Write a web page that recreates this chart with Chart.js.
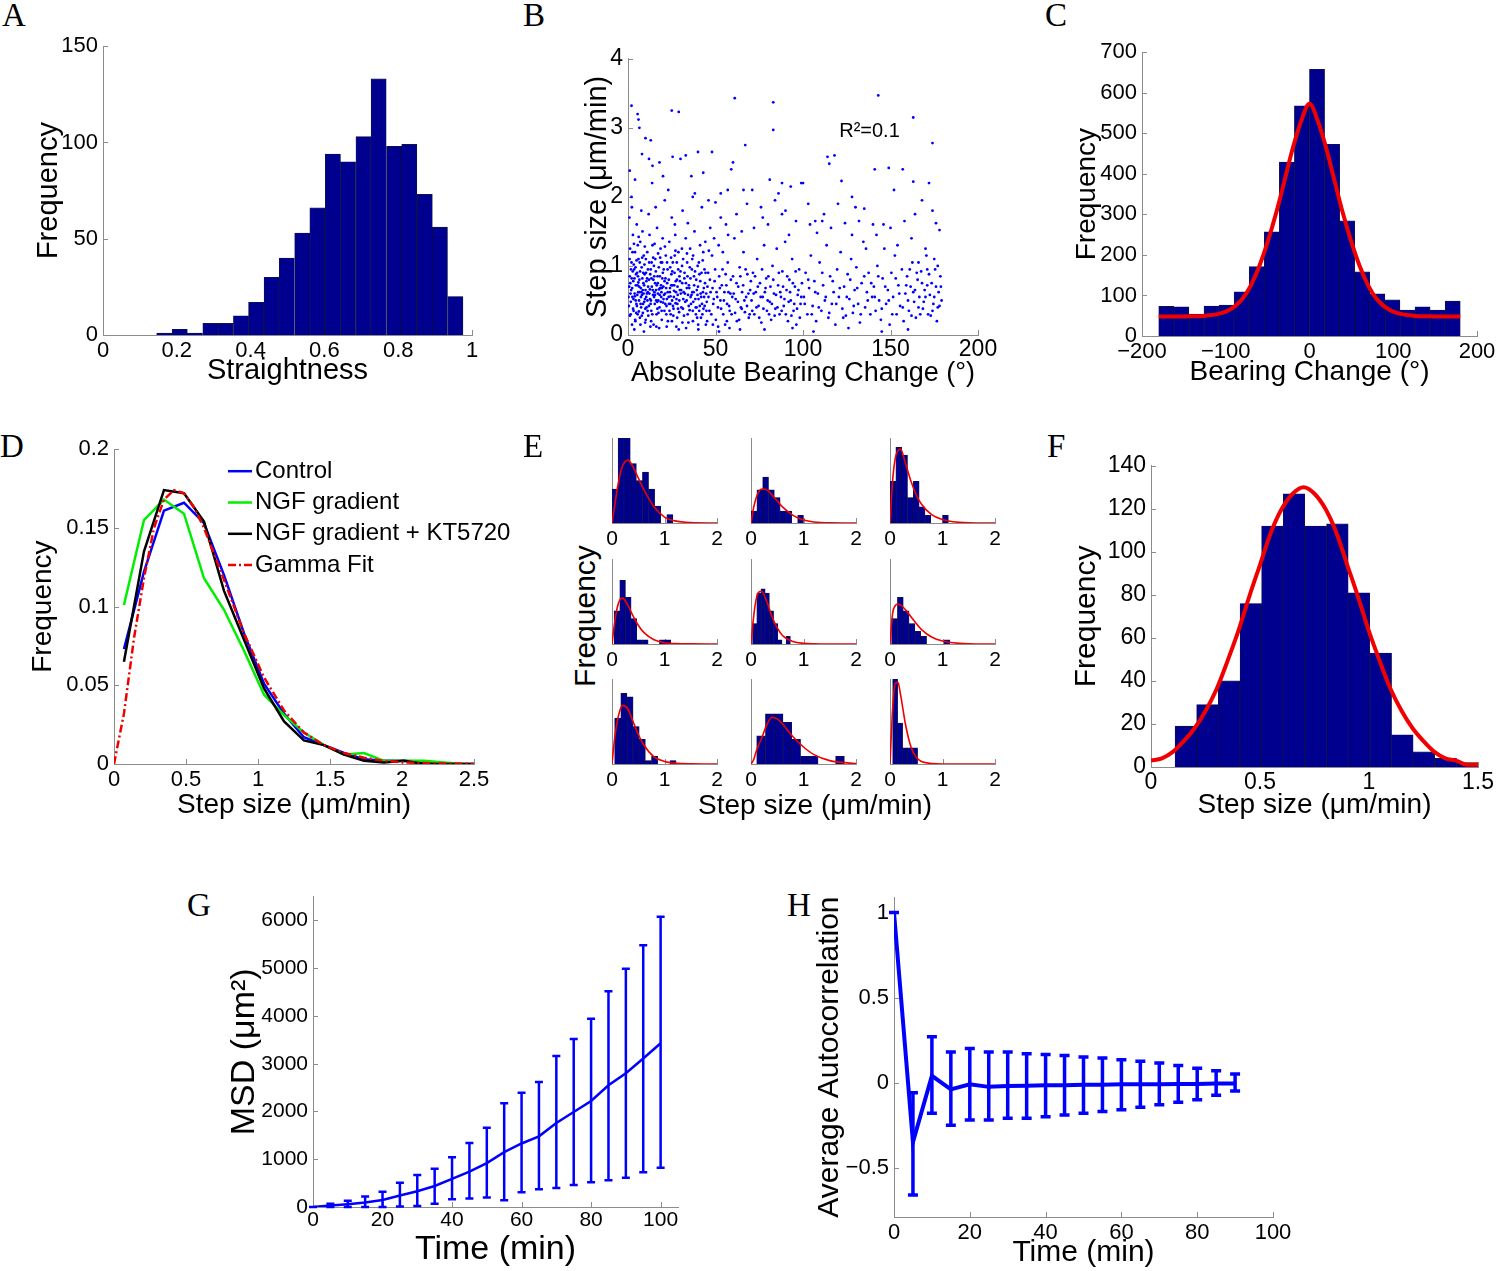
<!DOCTYPE html>
<html>
<head>
<meta charset="utf-8">
<title>Cell migration statistics</title>
<script src="https://cdn.jsdelivr.net/npm/chart.js@4.4.1/dist/chart.umd.min.js"></script>
<style>
  html, body { margin: 0; padding: 0; background: #fff; }
  #fig { position: relative; width: 1500px; height: 1271px; overflow: hidden; }
  #fig canvas { position: absolute; }
  .txt { position: absolute; white-space: nowrap; line-height: 1; color: #000;
         font-family: 'Liberation Sans', Arial, sans-serif; transform-origin: center; }
  .letter { position: absolute; font-family: 'Liberation Serif', 'Times New Roman', serif;
            font-size: 33px; line-height: 33px; color: #000; }
</style>
</head>
<body>
<div id="fig"></div>
<script>
// ---------- A: straightness histogram ----------
const A_BINS = [0.166, 0.208, 0.249, 0.291, 0.332, 0.374, 0.415, 0.457, 0.498, 0.540,
                0.581, 0.623, 0.664, 0.706, 0.747, 0.789, 0.830, 0.872, 0.913, 0.955];
const A_COUNTS = [1, 3, 1, 6, 6, 10, 17, 30, 40, 53, 66, 94, 90, 103, 133, 98, 99, 73, 56, 20];
const A_XTICKS = [0, 0.2, 0.4, 0.6, 0.8, 1];
const A_YTICKS = [0, 50, 100, 150];

// ---------- B: step size vs absolute bearing change ----------
const B_POINTS = [
  [0.5,0.42],[1,0.85],[1.2,1.25],[1.5,0.3],[1.8,0.65],[2,1.05],[2.3,0.15],[2.5,0.55],[2.8,1.45],[3,0.78],
  [3.2,0.35],[3.5,0.95],[3.8,0.6],[4,1.2],[4.2,0.2],[4.5,0.72],[4.8,0.45],[5,1.6],[5.2,0.9],[5.5,0.3],
  [5.8,0.62],[6,1.1],[6.3,0.5],[6.5,0.8],[6.8,0.25],[7,1.35],[7.3,0.68],[7.5,0.4],[7.8,0.98],[8,0.58],
  [8.3,1.5],[8.5,0.32],[8.8,0.75],[9,1.15],[9.3,0.48],[9.5,0.88],[9.8,0.18],[10,0.65],[0.8,1.7],[2.2,1.85],
  [3.6,0.08],[5.6,1.3],[7.6,1.8],[9.1,0.05],[1.4,0.6],[4.4,0.5],[6.6,0.62],[8.6,0.45],[2.7,0.92],[5.4,0.72],
  [10.3,0.9],[10.6,0.4],[11,1.2],[11.3,0.62],[11.6,0.28],[12,0.8],[12.3,1.45],[12.6,0.52],[13,0.95],[13.3,0.35],
  [13.6,0.7],[14,1.3],[14.3,0.58],[14.6,0.15],[15,0.85],[15.3,0.45],[15.6,1.1],[16,0.65],[16.3,0.3],[16.6,1.55],
  [17,0.75],[17.3,0.5],[17.6,0.98],[18,0.4],[18.3,0.68],[18.6,1.25],[19,0.55],[19.3,0.22],[19.6,0.82],[20,0.47],
  [11.8,1.75],[13.8,2.2],[15.8,1.85],[17.8,0.1],[12.8,0.12],[14.8,1.0],[16.8,0.38],[18.8,1.05],[10.8,0.6],[19.8,1.4],
  [13.1,0.5],[15.1,0.62],[17.1,0.6],[11.1,0.5],[19.1,0.62],
  [20.4,0.95],[20.8,0.35],[21.2,0.6],[21.6,1.15],[22,0.42],[22.4,0.75],[22.8,0.2],[23.2,0.55],[23.6,1.35],[24,0.68],
  [24.4,0.3],[24.8,0.88],[25.2,0.5],[25.6,1.05],[26,0.38],[26.4,0.72],[26.8,1.6],[27.2,0.46],[27.6,0.12],[28,0.8],
  [28.4,0.58],[28.8,1.2],[29.2,0.33],[29.6,0.65],[30,0.92],[21,1.95],[23,2.1],[25,1.7],[27,1.45],[29,0.08],
  [22.2,0.52],[24.2,0.45],[26.2,0.55],[28.2,0.45],[20.2,0.7],
  [30.5,0.4],[31,0.75],[31.5,1.1],[32,0.28],[32.5,0.6],[33,1.4],[33.5,0.5],[34,0.85],[34.5,0.18],[35,0.68],
  [35.5,1.25],[36,0.45],[36.5,0.95],[37,0.35],[37.5,0.62],[38,1.5],[38.5,0.52],[39,0.8],[39.5,0.25],[40,0.7],
  [40.5,1.05],[41,0.42],[41.5,0.6],[42,0.9],[42.5,0.3],[43,1.2],[43.5,0.55],[44,0.75],[44.5,0.15],[45,0.48],
  [31.2,1.8],[34.2,1.62],[36.2,2.3],[38.2,2.05],[42.2,1.85],[44.2,1.35],[33.2,0.1],[40.2,0.08],[35.8,0.55],[39.2,0.4],
  [45.8,0.9],[46.5,0.35],[47.2,0.62],[48,1.15],[48.7,0.45],[49.5,0.78],[50.2,0.22],[51,0.55],[51.8,1.3],[52.5,0.68],
  [53.2,0.38],[54,0.95],[54.8,0.5],[55.5,0.15],[56.2,0.72],[57,1.05],[57.8,0.42],[58.5,0.6],[59.2,0.3],[60,0.85],
  [60.8,1.4],[61.5,0.52],[62.2,0.2],[63,0.7],[63.8,0.98],[64.5,0.4],[65.2,0.62],[66,1.2],[66.8,0.33],[67.5,0.55],
  [68.2,0.88],[69,0.25],[69.8,0.65],[47,1.55],[50,1.92],[53,1.7],[56,1.6],[59,2.4],[62,1.75],[65,1.5],
  [68,1.9],[52,0.05],[58,0.1],[64,0.08],
  [70.6,0.5],[71.4,0.9],[72.2,0.3],[73,0.62],[73.8,1.1],[74.6,0.42],[75.4,0.75],[76.2,0.18],[77,0.55],[77.8,1.3],
  [78.6,0.68],[79.4,0.35],[80.2,0.85],[81,0.48],[81.8,0.22],[82.6,1.0],[83.4,0.6],[84.2,0.38],[85,1.25],[85.8,0.72],
  [86.6,0.3],[87.4,0.55],[88.2,0.92],[89,0.42],[89.8,1.35],[90.6,0.65],[91.4,0.2],[92.2,0.8],[93,0.5],[93.8,1.1],
  [94.6,0.35],[95.4,0.7],[96.2,0.15],[97,0.58],[97.8,0.95],[98.6,0.45],[99.4,0.75],[72,1.55],[76,1.85],[80,1.6],
  [84,1.95],[88,1.75],[92,1.45],[96,1.65],[78,0.08],[94,0.1],
  [100.5,0.55],[101.5,0.9],[102.5,0.3],[103.5,0.68],[104.5,1.15],[105.5,0.42],[106.5,0.78],[107.5,0.2],[108.5,0.6],[109.5,1.05],
  [110.5,0.35],[111.5,0.72],[112.5,0.5],[113.5,1.3],[114.5,0.25],[115.5,0.85],[116.5,0.45],[117.5,0.62],[118.5,0.15],[119.5,0.95],
  [120.5,0.55],[121.5,1.2],[122.5,0.38],[123.5,0.7],[124.5,0.28],[125.5,0.88],[126.5,0.52],[127.5,1.1],[128.5,0.32],[129.5,0.65],
  [130.5,0.98],[131.5,0.45],[132.5,0.18],[133.5,0.75],[134.5,1.35],[135.5,0.4],[136.5,0.62],[137.5,0.9],[138.5,0.3],[139.5,0.55],
  [104,1.6],[108,1.48],[112,1.75],[116,1.55],[124,1.62],[128,1.45],[132,1.65],[136,1.25],[106,0.05],[126,0.1],
  [100,2.2],[107,1.65],
  [140.5,0.7],[141.5,0.35],[142.5,1.0],[143.5,0.5],[144.5,0.22],[145.5,0.82],[146.5,1.25],[147.5,0.45],[148.5,0.65],[149.5,0.15],
  [150.5,0.9],[151.5,0.55],[152.5,1.15],[153.5,0.3],[154.5,0.72],[155.5,0.42],[156.5,0.95],[157.5,0.2],[158.5,0.6],[159.5,0.85],
  [160.5,0.35],[161.5,0.7],[162.5,1.05],[163.5,0.48],[164.5,0.25],[165.5,0.8],[166.5,0.55],[167.5,0.92],[168.5,0.38],[169.5,0.65],
  [170.5,1.15],[171.5,0.3],[172.5,0.58],[173.5,0.75],[174.5,0.45],[175.5,0.95],[176.5,0.2],[177.5,0.62],[178.5,0.85],[179.2,0.5],
  [161,0.95],[163,0.62],[166,0.4],[168,0.75],[170,0.55],[172,0.88],[174,0.35],[176,0.7],[178,0.42],[142,1.45],
  [146,1.6],[150,1.55],[154,1.3],[158,1.65],[162,1.4],[170,1.25],[175,1.1],[160,0.08],[145,0.05],
  [2,3.32],[5.5,3.2],[6,3.12],[6.5,3.0],[10,2.85],[13,2.82],[25,3.25],[29,3.23],[61,3.43],[83,3.37],
  [83,2.97],[143,3.47],[163,3.15],[174,2.78],[67,2.75],[8,2.62],[12,2.55],[18,2.5],[25.5,2.58],[30,2.55],
  [40,2.65],[48,2.65],[33,2.6],[114,2.58],[118,2.6],[141,2.4],[149,2.42],[157,2.4],[163,2.22],[172,2.2],
  [81,2.25],[88,2.2],[99,2.2],[60,2.5],[57,2.1],[66,2.1],[122,2.23],[115,2.48],[2,2.0],[1,2.38],
  [46,1.95],[103,1.9],[130,1.85],[135,1.83],[174,1.8],[178,1.52],[176,1.62],[164,1.75],[140,1.6],[120,1.9],
  [111,1.65],[90,1.8],[77,1.7],[4,2.25],[14,2.45],[20,2.3],[37,2.0],[43,2.35],[53,2.05],[71,2.1],
  [86,2.05],[93,2.15],[128,2.0],[152,2.1],[168,1.95],
  [0.7,0.7],[1.6,0.48],[2.1,0.82],[2.9,0.38],[3.3,1.02],[3.9,0.56],[4.6,0.88],[5.1,0.42],[5.9,0.76],[6.2,0.34],
  [6.9,0.92],[7.4,0.55],[7.9,0.28],[8.2,0.82],[8.9,0.6],[9.4,1.02],[9.9,0.38],[10.5,0.78],[11.4,0.95],[11.9,0.42],
  [12.5,0.66],[13.4,0.82],[13.9,0.3],[14.4,1.12],[14.9,0.55],[15.5,0.75],[16.1,0.5],[16.9,0.85],[17.4,0.32],[18.1,0.58],
  [18.9,0.72],[19.5,1.05],[20.6,0.58],[21.4,0.82],[21.9,0.3],[22.6,0.95],[23.4,0.45],[23.9,0.62],[24.6,1.12],[25.4,0.72],
  [25.9,0.28],[26.6,0.9],[27.4,0.62],[27.9,1.05],[28.6,0.38],[29.4,0.85],[30.2,0.6],[31.6,0.52],[32.3,0.9],[33.6,0.68],
  [34.7,0.42],[35.3,0.98],[36.8,0.62],[37.7,0.85],[38.8,0.3],[39.7,0.58],[40.8,0.88],[41.7,0.25],[42.8,0.62],[43.7,0.95],
  [44.8,0.35],[3.4,1.32],[6.1,1.42],[9.6,1.28],[12.1,1.05],[15.2,1.32],[18.4,1.12],[21.1,1.28],[24.1,0.98],[27.1,1.22],
  [30.8,1.25],[33.8,1.05],[37.2,1.15],[41.2,1.3],[1.1,0.28],[4.1,0.22],[7.1,0.15],[10.1,0.22],[13.2,0.2],[16.2,0.12],
  [19.2,0.35],[22.1,0.12],[25.1,0.2],[28.1,0.25],[31.1,0.18],[34.1,0.3],[37.1,0.2],[40.1,0.15],[43.1,0.38],
  [0.3,0.55],[0.9,1.1],[1.3,0.75],[1.7,0.95],[2.4,0.68],[2.6,1.2],[3.1,0.52],[3.7,0.82],[4.3,0.98],[4.7,0.32],
  [4.9,1.08],[5.3,0.58],[5.7,0.85],[6.4,0.7],[6.7,1.05],[7.2,0.45],[7.7,0.62],[8.1,1.12],[8.4,0.65],[8.7,0.9],
  [9.2,0.72],[9.7,0.52],[10.2,1.1],[10.4,0.55],[10.9,0.82],[11.2,0.35],[11.5,0.7],[12.2,0.6],[12.7,0.88],[12.9,0.45],
  [13.5,1.05],[14.1,0.65],[14.5,0.8],[15.4,0.58],[15.9,0.92],[16.4,0.72],[16.7,0.48],[17.2,1.18],[17.7,0.66],[18.2,0.85],
  [18.7,0.48],[19.4,0.68],[19.9,0.9],[20.3,0.52],[20.9,0.78],[21.3,0.45],[21.8,0.68],[22.3,1.05],[22.7,0.62],[23.3,0.8],
  [23.7,0.35],[24.3,0.56],[24.7,0.72],[25.3,0.92],[25.7,0.42],[26.3,0.64],[26.7,1.15],[27.3,0.78],[27.7,0.52],[28.3,0.7],
  [28.7,0.95],[29.3,0.5],[29.7,0.78],
  [30.4,0.65],[30.9,1.0],[31.4,0.38],[31.8,0.62],[32.2,0.82],[32.7,0.48],[33.1,0.75],[33.7,1.18],[34.3,0.58],[34.8,0.72],
  [35.2,0.36],[35.7,0.82],[36.3,0.58],[36.7,1.1],[37.3,0.48],[37.8,0.72],[38.3,0.92],[38.7,0.4],[39.3,0.65],[39.8,1.0],
  [40.3,0.52],[40.7,0.35],[41.3,0.78],[41.8,0.55],[42.3,0.45],[42.7,1.08],[43.3,0.68],[43.8,0.42],[44.3,0.9],[44.7,0.6],
  [45.4,0.7],[46,0.55],[46.8,0.8],[47.6,0.3],[48.3,0.68],[49,0.52],[49.8,0.95],[50.6,0.62],[51.4,0.4],[52.1,0.85],
  [52.8,0.5],[53.6,0.72],[54.4,0.3],[55.1,0.62],[55.8,0.88],[56.6,0.45],[57.4,0.62],[58.1,0.35],[58.8,0.8],[59.6,0.55],
  [46.2,1.22],[49.2,1.4],[54.2,1.2],[57.2,1.45],[51.5,0.12],[56.5,0.2],[45.2,0.2],[48.5,0.15],
  [60.4,0.6],[61.2,0.32],[62,0.75],[62.8,0.48],[63.5,0.22],[64.2,0.85],[65,0.38],[65.8,0.72],[66.5,0.5],[67.2,0.95],
  [68,0.42],[68.8,0.6],[69.5,0.3],[70.2,0.78],[71,0.35],[71.8,0.6],[72.6,0.85],[73.4,0.4],[74.2,0.7],[75,0.25],
  [75.8,0.55],[76.6,0.95],[77.4,0.38],[78.2,0.62],[79,0.82],[79.8,0.5],[80.6,0.3],[81.4,0.7],[82.2,0.45],[83,0.8],
  [83.8,0.28],[84.6,0.58],[85.4,0.4],[86.2,0.9],[87,0.62],[87.8,0.35],[88.6,0.7],[89.4,0.52],[90.2,0.3],[91,0.85],
  [91.8,0.48],[92.6,0.62],[93.4,0.28],[94.2,0.75],[95,0.45],[95.8,0.92],[96.6,0.38],[97.4,0.65],[98.2,0.25],[99,0.55],
  [101,0.45],[103,0.8],[105,0.3],[107,0.62],[109,0.4],[111,0.9],[113,0.55],[115,0.32],[117,0.78],[119,0.45],
  [121,0.68],[123,0.25],[125,0.55],[127,0.8],[129,0.42],[131,0.68],[133,0.3],[135,0.85],[137,0.5],[139,0.75],
  [141,0.55],[143,0.85],[145,0.38],[147,0.7],[149,0.5],[151,0.3],[153,0.82],[155,0.6],[157,0.4],[159,0.72],
  [160,0.5],[162,0.28],[164,0.65],[165,0.9],[167,0.3],[169,0.48],[171,0.72],[173,0.28],[175,0.55],[177,0.4],
  [178.8,0.7],[166,1.05],[171,0.95],[177,1.0]
];
const B_XTICKS = [0, 50, 100, 150, 200];
const B_YTICKS = [0, 1, 2, 3, 4];
const B_R2_TEXT = 'R\u00B2=0.1';
const B_R2_AT = [138, 2.95];

// ---------- C: bearing change histogram + fit ----------
const C_BINS = [-171, -153, -135, -117, -99, -81, -63, -45, -27, -9, 9, 27, 45, 63, 81, 99, 117, 135, 153, 171];
const C_COUNTS = [73, 72, 54, 74, 76, 109, 171, 257, 429, 568, 658, 473, 284, 158, 104, 89, 64, 72, 64, 86];
const C_FIT_X = [-180, -170, -160, -150, -140, -130, -120, -110, -100, -90, -80, -70, -60, -50, -40, -30, -20, -10, 0,
                 10, 20, 30, 40, 50, 60, 70, 80, 90, 100, 110, 120, 130, 140, 150, 160, 170, 180];
const C_FIT_Y = [48, 48, 48, 48, 49, 49, 51, 54, 60, 72, 92, 125, 172, 232, 302, 382, 463, 530, 573,
                 530, 463, 382, 302, 232, 172, 125, 92, 72, 60, 54, 51, 49, 49, 48, 48, 48, 48];
const C_XTICKS = [-200, -100, 0, 100, 200];
const C_YTICKS = [0, 100, 200, 300, 400, 500, 600, 700];

// ---------- D: step size distributions ----------
const D_X = [0.069, 0.208, 0.347, 0.486, 0.625, 0.764, 0.903, 1.042, 1.181, 1.319,
             1.458, 1.597, 1.736, 1.875, 2.014, 2.153, 2.292, 2.431, 2.569];
const D_CONTROL = [0.073, 0.122, 0.161, 0.166, 0.153, 0.120, 0.083, 0.051, 0.032, 0.017,
                   0.012, 0.007, 0.003, 0.002, 0.002, 0.001, 0, 0, 0];
const D_NGF = [0.101, 0.155, 0.168, 0.159, 0.118, 0.098, 0.072, 0.044, 0.031, 0.020,
               0.012, 0.006, 0.007, 0.002, 0.002, 0.002, 0.001, 0, 0];
const D_NGF_KT = [0.065, 0.135, 0.174, 0.172, 0.154, 0.110, 0.079, 0.048, 0.027, 0.015,
                  0.012, 0.006, 0.002, 0.001, 0.002, 0, 0, 0, 0];
const D_GAMMA_X = [0, 0.069, 0.139, 0.208, 0.278, 0.347, 0.417, 0.486, 0.556, 0.625, 0.764, 0.903,
                   1.042, 1.181, 1.319, 1.458, 1.597, 1.736, 1.875, 2.014, 2.153, 2.292, 2.431, 2.569];
const D_GAMMA_Y = [0, 0.032, 0.080, 0.118, 0.150, 0.168, 0.174, 0.172, 0.163, 0.150, 0.117, 0.083,
                   0.055, 0.034, 0.020, 0.012, 0.007, 0.004, 0.002, 0.001, 0.0006, 0.0003, 0.0001, 0];
const D_LABELS = ['Control', 'NGF gradient', 'NGF gradient + KT5720', 'Gamma Fit'];
const D_XTICKS = [0, 0.5, 1, 1.5, 2, 2.5];
const D_YTICKS = [0, 0.05, 0.1, 0.15, 0.2];

// ---------- E: nine individual cells ----------
const E_BINS = [
  [0.058, 0.174, 0.29, 0.406, 0.522, 0.638, 0.754, 0.87, 0.986, 1.102],
  [0.056, 0.167, 0.278, 0.389, 0.5, 0.611, 0.722, 0.833, 0.944],
  [0.056, 0.167, 0.278, 0.389, 0.5, 0.611, 0.722, 0.833, 0.944, 1.056],
  [0.094, 0.202, 0.31, 0.418, 0.526, 0.634, 0.742, 0.85, 0.958, 1.066],
  [0.07, 0.15, 0.23, 0.31, 0.39, 0.47, 0.55, 0.63, 0.71],
  [0.086, 0.197, 0.308, 0.419, 0.53, 0.641, 0.752, 0.863, 0.974, 1.085],
  [0.109, 0.226, 0.343, 0.46, 0.577, 0.694, 0.811, 0.928, 1.045, 1.162],
  [0.192, 0.359, 0.526, 0.693, 0.86, 1.027, 1.194, 1.361, 1.528, 1.695],
  [0.098, 0.193, 0.288, 0.383, 0.478]
];
const E_COUNTS = [
  [4, 10, 10, 7, 5, 6, 4, 2, 0, 1],
  [1.4, 3.9, 5.4, 3.9, 3.0, 1.4, 1.4, 0, 0.9],
  [4.9, 8.9, 8.0, 3.0, 4.9, 1.9, 0.9, 0, 0, 0.9],
  [3.9, 7.5, 5.5, 3.0, 0.5, 0.5, 0, 0, 0.5, 0.5],
  [2.4, 6.0, 6.5, 6.0, 3.9, 2.4, 0.5, 0, 0.9],
  [3.0, 5.5, 3.9, 2.4, 1.5, 0.9, 0, 0, 0, 0.5],
  [5.4, 8.3, 7.9, 4.4, 2.9, 0.4, 0.9, 0, 0, 0.4],
  [3.3, 5.9, 5.9, 4.9, 2.9, 0.9, 0.9, 0, 0, 0.9],
  [10, 4.8, 1.9, 1.9, 1.9]
];
const E_FIT_X = [0, 0.05, 0.1, 0.15, 0.2, 0.3, 0.4, 0.5, 0.6, 0.8, 1.0, 1.2, 1.5, 2.0];
const E_FIT = [
  [0, 2.0, 4.0, 5.6, 6.7, 7.4, 6.6, 5.3, 4.0, 1.9, 0.7, 0.25, 0.05, 0],
  [0, 1.8, 3.0, 3.7, 4.0, 3.9, 3.3, 2.6, 1.9, 0.9, 0.35, 0.12, 0.02, 0],
  [0, 5.0, 7.6, 8.5, 8.7, 6.9, 4.9, 3.3, 2.2, 0.95, 0.4, 0.15, 0.03, 0],
  [0, 2.5, 4.3, 5.2, 5.4, 4.6, 3.3, 2.2, 1.4, 0.5, 0.15, 0.05, 0.01, 0],
  [0, 3.2, 5.3, 6.1, 6.2, 5.0, 3.2, 1.9, 1.0, 0.3, 0.08, 0.02, 0, 0],
  [0, 3.6, 4.5, 4.7, 4.6, 4.0, 3.2, 2.4, 1.7, 0.8, 0.35, 0.14, 0.03, 0],
  [0, 3.0, 5.0, 6.3, 6.9, 6.5, 5.0, 3.5, 2.3, 0.85, 0.3, 0.1, 0.02, 0],
  [0, 0.5, 1.5, 2.3, 3.0, 4.6, 5.5, 5.3, 4.7, 3.2, 2.0, 1.1, 0.4, 0.05],
  [0, 6.5, 9.5, 9.6, 8.2, 4.5, 2.0, 0.8, 0.3, 0.05, 0, 0, 0, 0]
];
const E_XTICKS = [0, 1, 2];
const E_YMAX = 10;

// ---------- F: mean step size per cell ----------
const F_BINS = [0.160, 0.259, 0.358, 0.458, 0.557, 0.656, 0.756, 0.855, 0.954, 1.054, 1.153, 1.252, 1.352, 1.451];
const F_COUNTS = [19, 29, 40, 76, 112, 127, 112, 113, 81, 53, 15, 7, 4, 2];
const F_FIT_X = [0, 0.05, 0.1, 0.15, 0.2, 0.25, 0.3, 0.35, 0.4, 0.45, 0.5, 0.55, 0.6, 0.65, 0.7, 0.75,
                 0.8, 0.85, 0.9, 0.95, 1.0, 1.05, 1.1, 1.15, 1.2, 1.25, 1.3, 1.35, 1.4, 1.45, 1.5];
const F_FIT_Y = [3, 4, 7, 12, 18, 26, 36, 49, 63, 79, 94, 109, 120, 127, 130, 127,
                 120, 109, 94, 79, 63, 49, 36, 26, 18, 12, 7, 4, 3, 1, 1];
const F_XTICKS = [0, 0.5, 1, 1.5];
const F_YTICKS = [0, 20, 40, 60, 80, 100, 120, 140];

// ---------- G: mean squared displacement ----------
const G_TIME = [0, 5, 10, 15, 20, 25, 30, 35, 40, 45, 50, 55, 60, 65, 70, 75, 80, 85, 90, 95, 100];
const G_MSD = [0, 30, 60, 95, 145, 240, 330, 440, 590, 740, 920, 1150, 1330, 1480, 1760, 1990, 2220, 2550, 2800, 3110, 3430];
const G_HIGH = [0, 70, 130, 220, 320, 510, 670, 800, 1040, 1340, 1660, 2170, 2390, 2620, 3160, 3520, 3940, 4520, 4990, 5480, 6080];
const G_LOW = [0, 0, 0, 0, 0, 10, 20, 70, 160, 180, 200, 140, 310, 370, 400, 460, 520, 560, 610, 730, 820];
const G_XTICKS = [0, 20, 40, 60, 80, 100];
const G_YTICKS = [0, 1000, 2000, 3000, 4000, 5000, 6000];

// ---------- H: average autocorrelation ----------
const H_TIME = [0, 5, 10, 15, 20, 25, 30, 35, 40, 45, 50, 55, 60, 65, 70, 75, 80, 85, 90];
const H_MEAN = [1.0, -0.35, 0.04, -0.04, -0.01, -0.025, -0.02, -0.018, -0.015, -0.015,
                -0.012, -0.012, -0.01, -0.01, -0.01, -0.008, -0.008, -0.005, -0.005];
const H_HIGH = [1.0, -0.06, 0.27, 0.18, 0.20, 0.18, 0.18, 0.17, 0.165, 0.16,
                0.15, 0.145, 0.135, 0.125, 0.115, 0.10, 0.085, 0.07, 0.05];
const H_LOW = [1.0, -0.66, -0.18, -0.25, -0.22, -0.22, -0.21, -0.21, -0.20, -0.19,
               -0.18, -0.17, -0.16, -0.145, -0.13, -0.115, -0.10, -0.075, -0.05];
const H_XTICKS = [0, 20, 40, 60, 80, 100];
const H_YTICKS = [-0.5, 0, 0.5, 1];

// ---------- styling ----------
const FONT = "'Liberation Sans', Arial, sans-serif";
const AXIS_COLOR = '#8c8c8c';
const HIST_FILL = 'rgb(0,0,143)';
const HIST_EDGE = 'rgba(0,0,25,0.9)';
const FIT_RED = 'rgb(240,0,0)';
const TICK_LEN = 5;

Chart.defaults.font.family = FONT;
Chart.defaults.color = '#000';
Chart.defaults.elements.point.radius = 0;

const fig = document.getElementById('fig');
const fmt = v => String(Math.round(v * 1000) / 1000).replace('-', '\u2212');
const zip = (xs, ys) => xs.map((x, i) => ({ x, y: ys[i] }));

// MATLAB-style inward ticks
const innerTicks = {
  id: 'innerTicks',
  beforeDatasetsDraw(chart) {
    const { ctx, chartArea: a, scales: { x, y } } = chart;
    ctx.save();
    ctx.strokeStyle = AXIS_COLOR;
    ctx.lineWidth = 1;
    ctx.beginPath();
    x.ticks.forEach(t => {
      const p = Math.round(x.getPixelForValue(t.value)) + 0.5;
      ctx.moveTo(p, a.bottom); ctx.lineTo(p, a.bottom - TICK_LEN);
    });
    if (y.options.ticks.display) {
      y.ticks.forEach(t => {
        const p = Math.round(y.getPixelForValue(t.value)) + 0.5;
        ctx.moveTo(a.left, p); ctx.lineTo(a.left + TICK_LEN, p);
      });
    }
    ctx.stroke();
    ctx.restore();
  }
};

const errorBars = {
  id: 'errorBars',
  afterDatasetsDraw(chart) {
    const { ctx, scales: { x, y } } = chart;
    chart.data.datasets.forEach(ds => {
      if (!ds.errLow) return;
      ctx.save();
      ctx.strokeStyle = ds.borderColor;
      ctx.lineWidth = ds.errWidth;
      ctx.lineCap = 'butt';
      ds.data.forEach((p, i) => {
        const px = x.getPixelForValue(p.x);
        const lo = y.getPixelForValue(ds.errLow[i]);
        const hi = y.getPixelForValue(ds.errHigh[i]);
        const c = ds.errCap;
        ctx.beginPath();
        ctx.moveTo(px, lo); ctx.lineTo(px, hi);
        ctx.moveTo(px - c, lo); ctx.lineTo(px + c, lo);
        ctx.moveTo(px - c, hi); ctx.lineTo(px + c, hi);
        ctx.stroke();
      });
      ctx.restore();
    });
  }
};

const r2Label = {
  id: 'r2Label',
  afterDatasetsDraw(chart) {
    const { ctx, scales: { x, y } } = chart;
    ctx.save();
    ctx.font = '20px ' + FONT;
    ctx.fillStyle = '#000';
    ctx.textAlign = 'center';
    ctx.textBaseline = 'middle';
    ctx.fillText(B_R2_TEXT, x.getPixelForValue(B_R2_AT[0]), y.getPixelForValue(B_R2_AT[1]));
    ctx.restore();
  }
};

const dLegend = {
  id: 'dLegend',
  afterDatasetsDraw(chart) {
    const { ctx, chartArea: a } = chart;
    ctx.save();
    ctx.font = '24px ' + FONT;
    ctx.fillStyle = '#000';
    ctx.textBaseline = 'middle';
    chart.data.datasets.forEach((ds, i) => {
      const y = a.top + 22 + i * 31.3;
      const x0 = a.left + 114;
      ctx.strokeStyle = ds.borderColor;
      ctx.lineWidth = ds.borderWidth;
      ctx.setLineDash(ds.borderDash || []);
      ctx.beginPath(); ctx.moveTo(x0, y); ctx.lineTo(x0 + 24, y); ctx.stroke();
      ctx.fillText(ds.label, x0 + 27, y);
    });
    ctx.restore();
  }
};

function axis(min, max, ticks, size, o = {}) {
  const family = o.family || FONT;
  return {
    type: 'linear', min, max, bounds: 'data', offset: false,
    afterBuildTicks: s => { s.ticks = ticks.map(v => ({ value: v })); },
    afterFit: s => { if (s.isHorizontal()) s.height = size; else s.width = size; },
    grid: { display: false, drawTicks: false, offset: false },
    border: { display: true, color: AXIS_COLOR, width: 1 },
    ticks: {
      display: !o.hideTicks, autoSkip: false, maxRotation: 0, padding: o.pad ?? 3,
      color: '#000', font: { size: o.tickSize || 22, family }, callback: fmt
    },
    title: {
      display: !!o.title, text: o.title || '', padding: 0, color: '#000',
      font: { size: o.titleSize || 28, lineHeight: 1, family }
    }
  };
}

// canvas frame around a plot box, sized so the axis titles land where they belong
function frame(p) {
  const left = Math.round(p.yTitleX - p.yTitleSize / 2);
  const top = p.t - p.padTop;
  const right = p.r + p.padRight;
  const bottom = Math.round(p.xTitleY + p.xTitleSize / 2);
  return {
    left, top, width: right - left, height: bottom - top,
    ySize: p.l - left, xSize: bottom - p.b,
    padding: { top: p.padTop, right: p.padRight, left: 0, bottom: 0 }
  };
}

function makeChart(f, type, datasets, x, y, plugins = []) {
  const c = document.createElement('canvas');
  c.width = f.width; c.height = f.height;
  c.style.left = f.left + 'px'; c.style.top = f.top + 'px';
  c.style.width = f.width + 'px'; c.style.height = f.height + 'px';
  fig.appendChild(c);
  return new Chart(c, {
    type,
    data: { datasets },
    options: {
      responsive: false, animation: false, events: [],
      layout: { padding: f.padding },
      plugins: { legend: { display: false }, tooltip: { enabled: false } },
      scales: { x, y }
    },
    plugins: [innerTicks, ...plugins]
  });
}

function hist(xs, ns) {
  return {
    type: 'bar', data: zip(xs, ns), backgroundColor: HIST_FILL, borderColor: HIST_EDGE,
    borderWidth: 0.6, barPercentage: 1, categoryPercentage: 1, order: 2
  };
}
function fit(xs, ys, w) {
  return {
    type: 'line', data: zip(xs, ys), borderColor: FIT_RED, borderWidth: w,
    cubicInterpolationMode: 'monotone', fill: false, order: 1
  };
}

function text(str, cx, cy, size, rotate) {
  const d = document.createElement('div');
  d.className = 'txt';
  d.textContent = str;
  d.style.fontSize = size + 'px';
  d.style.left = cx + 'px';
  d.style.top = cy + 'px';
  d.style.transform = 'translate(-50%,-50%)' + (rotate ? ' rotate(-90deg)' : '');
  fig.appendChild(d);
}
function letter(ch, x, baseline) {
  const d = document.createElement('div');
  d.className = 'letter';
  d.textContent = ch;
  d.style.left = x + 'px';
  d.style.top = Math.round(baseline - 27.6) + 'px';
  fig.appendChild(d);
}

// ---------- A ----------
let f = frame({ l: 103, t: 43, r: 472, b: 335, yTitleX: 48, yTitleSize: 29, xTitleY: 370, xTitleSize: 29, padTop: 15, padRight: 28 });
makeChart(f, 'bar', [hist(A_BINS, A_COUNTS)],
  axis(0, 1, A_XTICKS, f.xSize, { title: 'Straightness', titleSize: 29, tickSize: 22 }),
  axis(0, 150, A_YTICKS, f.ySize, { title: 'Frequency', titleSize: 29, tickSize: 22, pad: 5 }));

// ---------- B ----------
f = frame({ l: 628, t: 55, r: 978, b: 335, yTitleX: 597, yTitleSize: 29, xTitleY: 373, xTitleSize: 27, padTop: 15, padRight: 28 });
makeChart(f, 'scatter', [{
    data: B_POINTS.map(([x, y]) => ({ x, y })), backgroundColor: '#0000ff', borderWidth: 0,
    pointRadius: 1.4, pointStyle: 'circle'
  }],
  axis(0, 200, B_XTICKS, f.xSize, { title: 'Absolute Bearing Change (\u00B0)', titleSize: 27, tickSize: 23, pad: 1 }),
  axis(0, 4, B_YTICKS, f.ySize, { title: 'Step size (\u03BCm/min)', titleSize: 29, tickSize: 23, pad: 5 }),
  [r2Label]);

// ---------- C ----------
f = frame({ l: 1142, t: 49, r: 1477, b: 336, yTitleX: 1087, yTitleSize: 28, xTitleY: 372, xTitleSize: 28, padTop: 15, padRight: 22 });
makeChart(f, 'bar', [hist(C_BINS, C_COUNTS), fit(C_FIT_X, C_FIT_Y, 4)],
  axis(-200, 200, C_XTICKS, f.xSize, { title: 'Bearing Change (\u00B0)', titleSize: 28, tickSize: 22 }),
  axis(0, 700, C_YTICKS, f.ySize, { title: 'Frequency', titleSize: 28, tickSize: 22, pad: 5 }));

// ---------- D ----------
f = frame({ l: 114, t: 446, r: 474, b: 764, yTitleX: 43, yTitleSize: 28, xTitleY: 805, xTitleSize: 28, padTop: 15, padRight: 50 });
makeChart(f, 'line', [
    { label: D_LABELS[0], data: zip(D_X, D_CONTROL), borderColor: '#0000ff', borderWidth: 2.5, order: 3 },
    { label: D_LABELS[1], data: zip(D_X, D_NGF), borderColor: '#00ee00', borderWidth: 2.5, order: 2 },
    { label: D_LABELS[2], data: zip(D_X, D_NGF_KT), borderColor: '#000000', borderWidth: 2.5, order: 1 },
    { label: D_LABELS[3], data: zip(D_GAMMA_X, D_GAMMA_Y), borderColor: '#ee0000', borderWidth: 2.5,
      borderDash: [8, 3, 2, 3], order: 0 }
  ],
  axis(0, 2.5, D_XTICKS, f.xSize, { title: 'Step size (\u03BCm/min)', titleSize: 28, tickSize: 22 }),
  axis(0, 0.2, D_YTICKS, f.ySize, { title: 'Frequency', titleSize: 28, tickSize: 22, pad: 5 }),
  [dLegend]);

// ---------- E ----------
const E_LEFT = [612, 751, 890];
const E_TOP = [438, 559, 679];
for (let k = 0; k < 9; k++) {
  const l = E_LEFT[k % 3], t = E_TOP[Math.floor(k / 3)];
  const fe = { left: l - 10, top: t - 6, width: 135, height: 121, ySize: 10, xSize: 30,
               padding: { top: 6, right: 20, left: 0, bottom: 0 } };
  makeChart(fe, 'bar', [hist(E_BINS[k], E_COUNTS[k]), fit(E_FIT_X, E_FIT[k], 1.6)],
    axis(0, 2, E_XTICKS, fe.xSize, { tickSize: 21, pad: 4 }),
    axis(0, E_YMAX, [], fe.ySize, { hideTicks: true }));
}
text('Frequency', 585, 616, 30, true);
text('Step size (\u03BCm/min)', 815, 805, 28, false);

// ---------- F ----------
f = frame({ l: 1151, t: 462, r: 1478, b: 767, yTitleX: 1087, yTitleSize: 30, xTitleY: 805, xTitleSize: 28, padTop: 15, padRight: 20 });
makeChart(f, 'bar', [hist(F_BINS, F_COUNTS), fit(F_FIT_X, F_FIT_Y, 4)],
  axis(0, 1.5, F_XTICKS, f.xSize, { title: 'Step size (\u03BCm/min)', titleSize: 28, tickSize: 23, pad: 2 }),
  axis(0, 140, F_YTICKS, f.ySize, { title: 'Frequency', titleSize: 30, tickSize: 23, pad: 5 }));

// ---------- G ----------
f = frame({ l: 313, t: 894, r: 678, b: 1207, yTitleX: 245, yTitleSize: 34, xTitleY: 1250, xTitleSize: 34, padTop: 15, padRight: 28 });
makeChart(f, 'line', [{
    data: zip(G_TIME, G_MSD), borderColor: '#0000ff', borderWidth: 2.5,
    errLow: G_LOW, errHigh: G_HIGH, errWidth: 2.5, errCap: 4
  }],
  axis(0, 105, G_XTICKS, f.xSize, { title: 'Time (min)', titleSize: 34, tickSize: 21, pad: 1 }),
  axis(0, 6500, G_YTICKS, f.ySize, { title: 'MSD (\u03BCm\u00B2)', titleSize: 34, tickSize: 21, pad: 5 }),
  [errorBars]);

// ---------- H ----------
f = frame({ l: 894, t: 894, r: 1273, b: 1217, yTitleX: 830, yTitleSize: 30, xTitleY: 1253, xTitleSize: 30, padTop: 15, padRight: 26 });
makeChart(f, 'line', [{
    data: zip(H_TIME, H_MEAN), borderColor: '#0000ff', borderWidth: 4,
    errLow: H_LOW, errHigh: H_HIGH, errWidth: 3.5, errCap: 5
  }],
  axis(0, 100, H_XTICKS, f.xSize, { title: 'Time (min)', titleSize: 30, tickSize: 22 }),
  axis(-0.79, 1.09, H_YTICKS, f.ySize, { title: 'Average Autocorrelation', titleSize: 30, tickSize: 22, pad: 5 }),
  [errorBars]);

// ---------- panel letters ----------
letter('A', 2, 27); letter('B', 523, 27); letter('C', 1045, 27);
letter('D', 0, 458); letter('E', 523, 458); letter('F', 1047, 458);
letter('G', 187, 917); letter('H', 787, 917);
</script>
</body>
</html>
